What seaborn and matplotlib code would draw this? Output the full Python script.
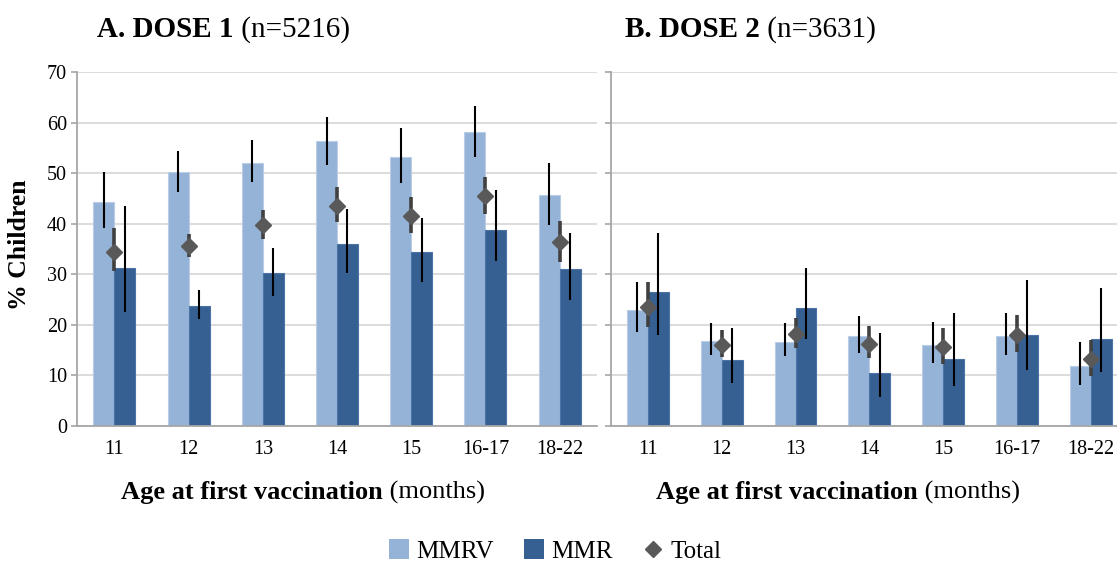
import numpy as np
import pandas as pd
import matplotlib
matplotlib.use("Agg")
import matplotlib.pyplot as plt
import seaborn as sns
from matplotlib.patches import Patch
from matplotlib.lines import Line2D

# Age groups at first vaccination (months)
ages = ["11", "12", "13", "14", "15", "16-17", "18-22"]

# Dose 1: % children with the outcome, with 95% CI
dose1_mmrv = [44.3, 50.3, 52.1, 56.4, 53.1, 58.1, 45.6]
dose1_mmrv_lo = [39.1, 46.3, 48.2, 51.6, 48.0, 53.2, 39.7]
dose1_mmrv_hi = [50.2, 54.4, 56.5, 61.2, 58.9, 63.3, 52.0]
dose1_mmr = [31.3, 23.7, 30.3, 35.9, 34.4, 38.8, 31.0]
dose1_mmr_lo = [22.5, 21.2, 25.8, 30.3, 28.5, 32.6, 25.0]
dose1_mmr_hi = [43.5, 26.8, 35.1, 42.9, 41.1, 46.6, 38.2]
dose1_total = [34.5, 35.6, 39.7, 43.6, 41.6, 45.4, 36.3]
dose1_total_lo = [30.7, 33.4, 37.0, 40.4, 38.1, 42.0, 32.4]
dose1_total_hi = [39.1, 38.0, 42.7, 47.2, 45.3, 49.2, 40.6]

# Dose 2
dose2_mmrv = [22.9, 16.9, 16.7, 17.8, 16.0, 17.8, 11.8]
dose2_mmrv_lo = [18.5, 14.1, 13.8, 14.4, 12.5, 14.1, 8.2]
dose2_mmrv_hi = [28.4, 20.3, 20.3, 21.8, 20.5, 22.3, 16.7]
dose2_mmr = [26.4, 13.1, 23.3, 10.4, 13.3, 18.0, 17.3]
dose2_mmr_lo = [18.0, 8.6, 17.3, 5.8, 7.9, 11.0, 10.7]
dose2_mmr_hi = [38.2, 19.3, 31.2, 18.4, 22.3, 28.9, 27.3]
dose2_total = [23.6, 16.0, 18.2, 16.3, 15.6, 17.9, 13.2]
dose2_total_lo = [19.6, 13.6, 15.5, 13.4, 12.3, 14.7, 9.9]
dose2_total_hi = [28.4, 19.0, 21.4, 19.8, 19.3, 21.9, 17.1]

panel_titles = [("A. DOSE 1", " (n=5216)"), ("B. DOSE 2", " (n=3631)")]
vaccines = ["MMRV", "MMR"]

C_MMRV = "#95B3D7"
C_MMR = "#366092"
C_TOTAL = "#595959"
C_GRID = "#D9D9D9"
C_AXIS = "#A6A6A6"

sns.set_theme(style="white")
plt.rcParams["font.family"] = ["Liberation Serif", "DejaVu Serif"]
plt.rcParams["text.color"] = "black"
plt.rcParams["axes.labelcolor"] = "black"

W, H = 1117, 565
fig = plt.figure(figsize=(W / 100, H / 100), dpi=100)

def frac_x(px):
    return px / W

def frac_y(py):
    return 1 - py / H

ax_a = fig.add_axes([frac_x(77.3), frac_y(426), frac_x(596.7 - 77.3), (426 - 72) / H])
ax_b = fig.add_axes([frac_x(611), frac_y(426), frac_x(7 * 73.8), (426 - 72) / H])

panels = [
    (ax_a, dose1_mmrv, dose1_mmrv_lo, dose1_mmrv_hi, dose1_mmr, dose1_mmr_lo, dose1_mmr_hi,
     dose1_total, dose1_total_lo, dose1_total_hi),
    (ax_b, dose2_mmrv, dose2_mmrv_lo, dose2_mmrv_hi, dose2_mmr, dose2_mmr_lo, dose2_mmr_hi,
     dose2_total, dose2_total_lo, dose2_total_hi),
]

for k, (ax, mv, mv_lo, mv_hi, mr, mr_lo, mr_hi, tt, tt_lo, tt_hi) in enumerate(panels):
    df = pd.DataFrame({
        "age": ages * 2,
        "vaccine": ["MMRV"] * len(ages) + ["MMR"] * len(ages),
        "pct": mv + mr,
    })
    sns.barplot(data=df, x="age", y="pct", hue="vaccine", order=ages, hue_order=vaccines,
                palette=[C_MMRV, C_MMR], saturation=1, width=0.566, errorbar=None,
                legend=False, ax=ax, zorder=2, linewidth=0.8)

    bars = [p for p in ax.patches]
    los = mv_lo + mr_lo
    his = mv_hi + mr_hi
    for i, p in enumerate(bars):
        p.set_edgecolor("#B9CDE5" if i < len(ages) else "#4A74A8")
        xc = p.get_x() + p.get_width() / 2
        ax.plot([xc, xc], [los[i], his[i]], color="black", lw=1.5, zorder=4,
                solid_capstyle="butt")

    xs = np.arange(len(ages))
    for i in xs:
        ax.plot([i, i], [tt_lo[i], tt_hi[i]], color="#404040", lw=2.6, zorder=5,
                solid_capstyle="butt")
    ax.plot(xs, tt, linestyle="none", marker="D", markersize=8, color=C_TOTAL,
            markeredgecolor=C_TOTAL, zorder=6)

    ax.set_ylim(0, 70)
    ax.set_xlim(-0.5, len(ages) - 0.5)
    ax.set_yticks(np.arange(0, 71, 10))
    ax.set_xticks(xs)
    ax.set_xticklabels(ages)
    ax.set_xticks(np.arange(-0.5, len(ages), 1.0), minor=True)
    ax.set_xlabel("")
    ax.set_ylabel("")
    ax.grid(axis="y", color=C_GRID, lw=1.3, zorder=0)
    ax.set_axisbelow(True)
    for s in ["top", "right"]:
        ax.spines[s].set_visible(False)
    for s in ["left", "bottom"]:
        ax.spines[s].set_color(C_AXIS)
        ax.spines[s].set_linewidth(1.3)
    ax.tick_params(axis="x", which="major", length=0, labelsize=14.5, pad=10, colors="black")
    ax.tick_params(axis="x", which="minor", length=4, width=1.2, color=C_AXIS, direction="out")
    ax.tick_params(axis="y", which="major", length=4, width=1.2, color=C_AXIS,
                   direction="out", labelsize=14.5, labelcolor="black", left=True)
    if k == 1:
        ax.tick_params(axis="y", labelleft=False)
    ax.set_facecolor("white")

renderer = fig.canvas.get_renderer()

def two_part_text(x_px, y_px, bold_txt, reg_txt, size, ha="left"):
    t1 = fig.text(0, 0, bold_txt, fontsize=size, fontweight="bold", va="baseline",
                  color="black")
    t2 = fig.text(0, 0, reg_txt, fontsize=size, va="baseline", color="black")
    w1 = t1.get_window_extent(renderer).width
    w2 = t2.get_window_extent(renderer).width
    x0 = x_px if ha == "left" else x_px - (w1 + w2) / 2
    t1.set_position((frac_x(x0), frac_y(y_px)))
    t2.set_position((frac_x(x0 + w1), frac_y(y_px)))

two_part_text(97, 37, panel_titles[0][0], panel_titles[0][1], 21)
two_part_text(625, 37, panel_titles[1][0], panel_titles[1][1], 21)

two_part_text(303, 499, "Age at first vaccination", " (months)", 19, ha="center")
two_part_text(838, 499, "Age at first vaccination", " (months)", 19, ha="center")

fig.text(frac_x(20), frac_y(245), "% Children", rotation=90, fontsize=18.5,
         fontweight="bold", ha="center", va="center", color="black")

handles = [
    Patch(facecolor=C_MMRV, edgecolor="none", label="MMRV"),
    Patch(facecolor=C_MMR, edgecolor="none", label="MMR"),
    Line2D([], [], linestyle="none", marker="D", markersize=8, color=C_TOTAL, label="Total"),
]
fig.legend(handles=handles, loc="center", bbox_to_anchor=(frac_x(555), frac_y(551)),
           ncol=3, frameon=False, fontsize=18, handlelength=0.8, handleheight=0.8,
           handletextpad=0.3, columnspacing=1.2, labelcolor="black")

fig.savefig("out.png", dpi=100, facecolor="white")
